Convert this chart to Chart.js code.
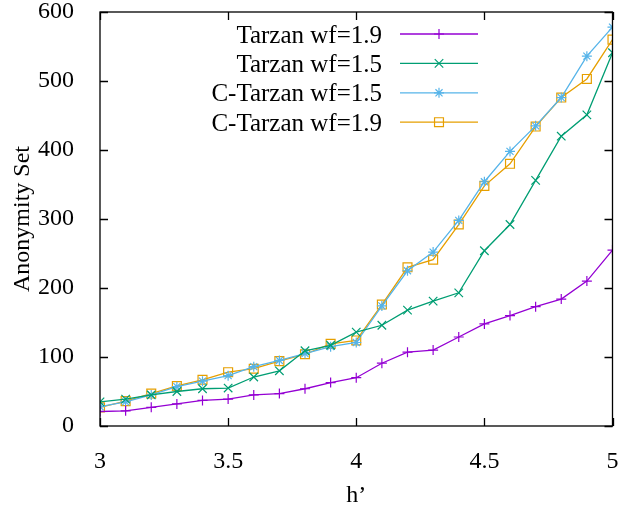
<!DOCTYPE html>
<html>
<head>
<meta charset="utf-8">
<script src="https://cdn.jsdelivr.net/npm/chart.js@4/dist/chart.umd.min.js"></script>
<style>
  html, body { margin: 0; padding: 0; background: #fff; }
  #wrap { width: 620px; height: 517px; }
</style>
</head>
<body>
<div id="wrap"><canvas id="chart" width="620" height="517"></canvas></div>
<script>
// h' values, step 0.1
const hValues = [3.0, 3.1, 3.2, 3.3, 3.4, 3.5, 3.6, 3.7, 3.8, 3.9, 4.0,
                 4.1, 4.2, 4.3, 4.4, 4.5, 4.6, 4.7, 4.8, 4.9, 5.0];

const tarzan19 = [21, 22, 27, 32, 37, 39, 45, 47, 54, 63, 70,
                  91, 107, 110, 129, 148, 160, 173, 184, 210, 255];
const tarzan15 = [35, 39, 45, 50, 54, 55, 71, 80, 109, 117, 136,
                  146, 168, 181, 193, 254, 292, 356, 420, 451, 541];
const cTarzan15 = [28, 35, 45, 57, 65, 73, 86, 95, 105, 115, 121,
                   174, 225, 252, 298, 354, 398, 435, 476, 536, 578];
const cTarzan19 = [27, 36, 47, 58, 67, 78, 83, 94, 104, 119, 124,
                   176, 230, 241, 292, 348, 380, 434, 476, 503, 560];

const xTicks = [3, 3.5, 4, 4.5, 5];
const yTicks = [0, 100, 200, 300, 400, 500, 600];

const FONT = "'Liberation Serif', 'Times New Roman', serif";

function series(label, values, color, style, radius) {
  return {
    label: label,
    data: values.map((v, i) => ({ x: hValues[i], y: v })),
    borderColor: color,
    backgroundColor: 'rgba(0,0,0,0)',
    borderWidth: 1.3,
    pointStyle: style,
    pointRadius: radius,
    pointBorderWidth: 1.2,
    pointBorderColor: color,
    pointBackgroundColor: 'rgba(0,0,0,0)',
    tension: 0
  };
}

// gnuplot-style frame: border plus inward ticks on all four sides
const framePlugin = {
  id: 'frame',
  afterDatasetsDraw(chart) {
    const { ctx, chartArea: a, scales } = chart;
    const len = 8;
    ctx.save();
    ctx.strokeStyle = '#000';
    ctx.lineWidth = 1.3;
    ctx.beginPath();
    xTicks.forEach(t => {
      const px = Math.round(scales.x.getPixelForValue(t)) + 0.5;
      ctx.moveTo(px, a.bottom); ctx.lineTo(px, a.bottom - len);
      ctx.moveTo(px, a.top); ctx.lineTo(px, a.top + len);
    });
    yTicks.forEach(t => {
      const py = Math.round(scales.y.getPixelForValue(t)) + 0.5;
      ctx.moveTo(a.left, py); ctx.lineTo(a.left + len, py);
      ctx.moveTo(a.right, py); ctx.lineTo(a.right - len, py);
    });
    ctx.stroke();
    ctx.strokeRect(a.left, a.top, a.right - a.left, a.bottom - a.top);
    ctx.restore();
  }
};

// key in the top right corner: text, then line sample with its marker
const keyPlugin = {
  id: 'key',
  afterDatasetsDraw(chart) {
    const { ctx } = chart;
    const textRight = 382, lineFrom = 400, lineTo = 478, rowTop = 34, rowGap = 29.4;
    ctx.save();
    ctx.font = '25px ' + FONT;
    ctx.textAlign = 'right';
    ctx.textBaseline = 'middle';
    chart.data.datasets.forEach((ds, i) => {
      const y = rowTop + i * rowGap;
      ctx.fillStyle = '#000';
      ctx.fillText(ds.label, textRight, y + 2);
      ctx.strokeStyle = ds.borderColor;
      ctx.lineWidth = ds.borderWidth;
      ctx.beginPath();
      ctx.moveTo(lineFrom, y);
      ctx.lineTo(lineTo, y);
      ctx.stroke();
      ctx.lineWidth = ds.pointBorderWidth;
      ctx.fillStyle = 'rgba(0,0,0,0)';
      Chart.helpers.drawPoint(ctx, {
        pointStyle: ds.pointStyle, radius: ds.pointRadius, rotation: 0, borderWidth: ds.pointBorderWidth
      }, (lineFrom + lineTo) / 2, y);
    });
    ctx.restore();
  }
};

new Chart(document.getElementById('chart'), {
  type: 'line',
  data: {
    datasets: [
      series('Tarzan wf=1.9', tarzan19, '#9400d3', 'cross', 5),
      series('Tarzan wf=1.5', tarzan15, '#009e73', 'crossRot', 6),
      series('C-Tarzan wf=1.5', cTarzan15, '#56b4e9', 'star', 5),
      series('C-Tarzan wf=1.9', cTarzan19, '#e69f00', 'rect', 6.3)
    ]
  },
  options: {
    responsive: false,
    animation: false,
    layout: { padding: { top: 12, right: 7, left: 0, bottom: 0 } },
    plugins: { legend: { display: false }, tooltip: { enabled: false } },
    scales: {
      x: {
        type: 'linear',
        min: 3, max: 5,
        grid: { display: false },
        border: { display: false },
        afterBuildTicks: s => { s.ticks = xTicks.map(v => ({ value: v })); },
        afterFit: s => { s.height = 91; s.paddingLeft = 0; s.paddingRight = 0; },
        ticks: { color: '#000', font: { family: FONT, size: 24 }, padding: 13, maxRotation: 0,
                 callback: v => String(v) },
        title: { display: true, text: 'h’', color: '#000', font: { family: FONT, size: 24 }, padding: { top: 0, bottom: 7 } }
      },
      y: {
        min: 0, max: 600,
        grid: { display: false },
        border: { display: false },
        afterBuildTicks: s => { s.ticks = yTicks.map(v => ({ value: v })); },
        afterFit: s => { s.width = 100; s.paddingTop = 0; s.paddingBottom = 0; },
        ticks: { color: '#000', font: { family: FONT, size: 24 }, padding: 18 },
        title: { display: true, text: 'Anonymity Set', color: '#000', font: { family: FONT, size: 24 }, padding: { top: 8, bottom: 6 } }
      }
    }
  },
  plugins: [framePlugin, keyPlugin]
});
</script>
</body>
</html>
